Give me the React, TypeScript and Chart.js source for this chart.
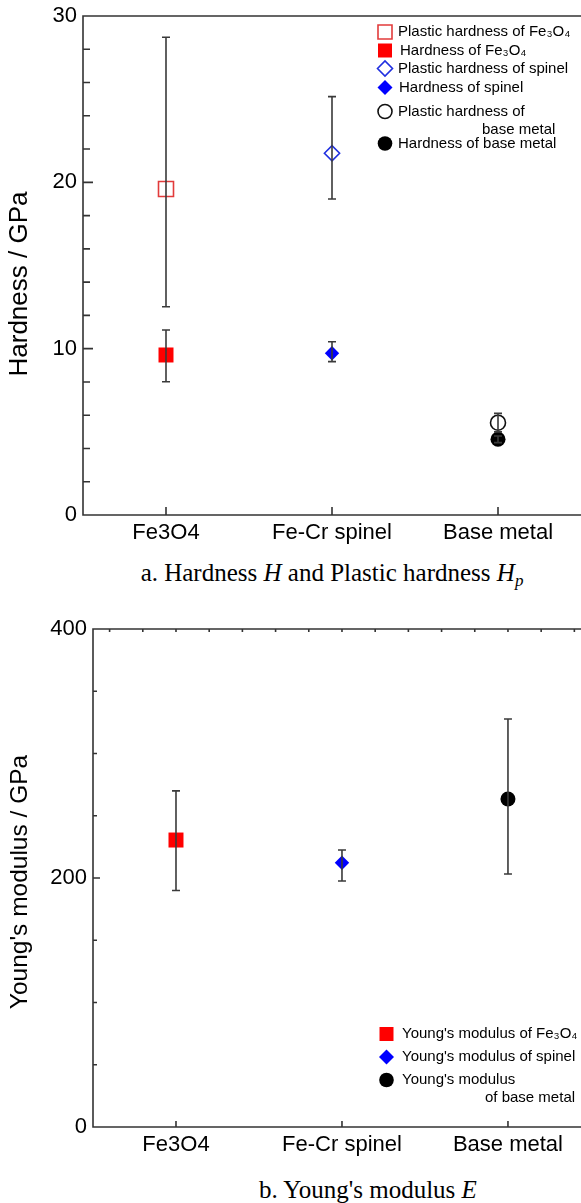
import React, { useEffect, useRef } from "react";
import { Chart, registerables } from "chart.js";

Chart.register(...registerables);

// ---------- data ----------
const categories = ["Fe3O4", "Fe-Cr spinel", "Base metal"];

// Hardness chart (GPa)
const plasticHardness = [19.6, 21.75, 5.55];
const plasticHardnessLow = [12.52, 19.0, 5.0];
const plasticHardnessHigh = [28.72, 25.15, 6.11];

const hardness = [9.62, 9.72, 4.55];
const hardnessLow = [8.01, 9.22, 4.35];
const hardnessHigh = [11.12, 10.42, 4.75];

// Young's modulus chart (GPa)
const youngsModulus = [230.5, 212.3, 263.5];
const youngsModulusLow = [190.0, 197.6, 203.2];
const youngsModulusHigh = [270.0, 222.5, 327.7];

const hardnessTicks = [0, 10, 20, 30];
const modulusTicks = [0, 200, 400];

// ---------- styling ----------
const SANS = "'Liberation Sans', Arial, Helvetica, sans-serif";
const SERIF = "'Liberation Serif', 'Times New Roman', serif";
const AXIS_COLOR = "#333333";
const ERR_COLOR = "#3a3a3a";

const styles = [
  { shape: "rect", color: "#ff0000", hollowColor: "#e23b3b", r: 10.6, rHollow: 10.6 },
  { shape: "rectRot", color: "#0000ff", hollowColor: "#1f2fe0", r: 7.2, rHollow: 7.6 },
  { shape: "circle", color: "#000000", hollowColor: "#111111", r: 7.5, rHollow: 7.5 },
];

type Bar = { x: number; lo: number; hi: number };

function errorBarsPlugin(bars: Bar[]) {
  return {
    id: "errorBars",
    afterDatasetsDraw(chart: any) {
      const { ctx, scales } = chart;
      const xs = scales.x;
      const ys = scales.y;
      ctx.save();
      ctx.strokeStyle = ERR_COLOR;
      ctx.lineWidth = 1.6;
      ctx.beginPath();
      for (const b of bars) {
        const px = xs.getPixelForValue(b.x);
        const t = ys.getPixelForValue(b.hi);
        const bt = ys.getPixelForValue(b.lo);
        ctx.moveTo(px, t);
        ctx.lineTo(px, bt);
        ctx.moveTo(px - 4, t);
        ctx.lineTo(px + 4, t);
        ctx.moveTo(px - 4, bt);
        ctx.lineTo(px + 4, bt);
      }
      ctx.stroke();
      ctx.restore();
    },
  };
}

type FrameCfg = {
  yMinor: number;
  yMajor: number;
  majorLen: number;
  minorLen: number;
  xLen: number;
  topStart?: number;
  topStep?: number;
  topLen?: number;
  title: string;
  titleSize: number;
  titleX: number;
  titleY: number;
};

function framePlugin(cfg: FrameCfg) {
  return {
    id: "frame",
    afterDraw(chart: any) {
      const { ctx, chartArea, scales } = chart;
      const { left, right, top, bottom } = chartArea;
      const xs = scales.x;
      const ys = scales.y;
      ctx.save();
      ctx.strokeStyle = AXIS_COLOR;
      ctx.lineWidth = 1.6;
      ctx.beginPath();
      ctx.moveTo(right + 2, top);
      ctx.lineTo(left, top);
      ctx.lineTo(left, bottom);
      ctx.lineTo(right + 2, bottom);
      const n = Math.round((ys.max - ys.min) / cfg.yMinor);
      for (let i = 1; i < n; i++) {
        const v = ys.min + i * cfg.yMinor;
        const py = ys.getPixelForValue(v);
        const q = v / cfg.yMajor;
        const major = Math.abs(q - Math.round(q)) < 1e-6;
        const len = major ? cfg.majorLen : cfg.minorLen;
        ctx.moveTo(left, py);
        ctx.lineTo(left + len, py);
      }
      for (const t of xs.ticks) {
        const px = xs.getPixelForValue(t.value);
        ctx.moveTo(px, bottom);
        ctx.lineTo(px, bottom - cfg.xLen);
      }
      if (cfg.topStep && cfg.topStart !== undefined) {
        for (let v = cfg.topStart; v < xs.max; v += cfg.topStep) {
          const px = xs.getPixelForValue(v);
          ctx.moveTo(px, top);
          ctx.lineTo(px, top + (cfg.topLen || 3));
        }
      }
      ctx.stroke();
      // axis title
      ctx.translate(cfg.titleX, cfg.titleY);
      ctx.rotate(-Math.PI / 2);
      ctx.fillStyle = "#000";
      ctx.font = `${cfg.titleSize}px ${SANS}`;
      ctx.textAlign = "center";
      ctx.textBaseline = "middle";
      ctx.fillText(cfg.title, 0, 0);
      ctx.restore();
    },
  };
}

type LegendItem = {
  shape: string;
  filled: boolean;
  color: string;
  size: number;
  mx: number;
  my: number;
  lines: { text: string; x: number; y: number }[];
};

function drawShape(ctx: CanvasRenderingContext2D, it: LegendItem) {
  const { mx, my, size } = it;
  ctx.beginPath();
  if (it.shape === "rect") {
    ctx.rect(mx - size, my - size, size * 2, size * 2);
  } else if (it.shape === "rectRot") {
    ctx.moveTo(mx - size, my);
    ctx.lineTo(mx, my - size);
    ctx.lineTo(mx + size, my);
    ctx.lineTo(mx, my + size);
    ctx.closePath();
  } else {
    ctx.arc(mx, my, size, 0, Math.PI * 2);
  }
  if (it.filled) {
    ctx.fillStyle = it.color;
    ctx.fill();
  } else {
    ctx.fillStyle = "#ffffff";
    ctx.fill();
    ctx.lineWidth = 1.6;
    ctx.strokeStyle = it.color;
    ctx.stroke();
  }
}

function legendPlugin(items: LegendItem[]) {
  return {
    id: "customLegend",
    afterDraw(chart: any) {
      const { ctx } = chart;
      ctx.save();
      for (const it of items) {
        drawShape(ctx, it);
        ctx.fillStyle = "#000";
        ctx.font = `15px ${SANS}`;
        ctx.textAlign = "left";
        ctx.textBaseline = "middle";
        for (const l of it.lines) ctx.fillText(l.text, l.x, l.y);
      }
      ctx.restore();
    },
  };
}

function pointDs(label: string, x: number, y: number, i: number, hollow: boolean) {
  const s = styles[i];
  return {
    label,
    data: [{ x, y }],
    pointStyle: s.shape,
    pointRadius: hollow ? s.rHollow : s.r,
    pointBackgroundColor: hollow ? "#ffffff" : s.color,
    pointBorderColor: hollow ? s.hollowColor : s.color,
    pointBorderWidth: hollow ? 1.6 : 0,
    showLine: false,
  };
}

function baseOptions(
  yMax: number,
  yTicks: number[],
  yWidth: number,
  xMax: number,
  xHeight: number,
  padTop: number
) {
  return {
    responsive: false,
    animation: false as const,
    events: [] as any[],
    layout: { padding: { top: padTop, right: 0, left: 0, bottom: 0 }, autoPadding: false },
    plugins: { legend: { display: false }, tooltip: { enabled: false } },
    scales: {
      x: {
        type: "linear" as const,
        min: 0.5,
        max: xMax,
        afterBuildTicks: (s: any) => {
          s.ticks = categories.map((_, i) => ({ value: i + 1 }));
        },
        afterFit: (s: any) => {
          s.height = xHeight;
          s.paddingLeft = 0;
          s.paddingRight = 0;
        },
        grid: { display: false, drawTicks: false },
        border: { display: false },
        ticks: {
          color: "#000",
          font: { family: SANS, size: 22 },
          padding: 5,
          maxRotation: 0,
          autoSkip: false,
          callback: (v: any) => categories[Math.round(Number(v)) - 1] ?? "",
        },
      },
      y: {
        type: "linear" as const,
        min: 0,
        max: yMax,
        afterBuildTicks: (s: any) => {
          s.ticks = yTicks.map((v) => ({ value: v }));
        },
        afterFit: (s: any) => {
          s.width = yWidth;
          s.paddingTop = 0;
          s.paddingBottom = 0;
        },
        grid: { display: false, drawTicks: false },
        border: { display: false },
        ticks: {
          color: "#000",
          font: { family: SANS, size: 22 },
          padding: 6,
        },
      },
    },
  };
}

export default function App() {
  const topRef = useRef<HTMLCanvasElement | null>(null);
  const botRef = useRef<HTMLCanvasElement | null>(null);

  useEffect(() => {
    const charts: Chart[] = [];
    if (topRef.current) {
      const datasets = [
        ...categories.map((c, i) =>
          pointDs(`Plastic hardness of ${c}`, i + 1, plasticHardness[i], i, true)
        ),
        ...categories.map((c, i) => pointDs(`Hardness of ${c}`, i + 1, hardness[i], i, false)),
      ];
      const bars: Bar[] = [
        ...categories.map((_, i) => ({ x: i + 1, lo: plasticHardnessLow[i], hi: plasticHardnessHigh[i] })),
        ...categories.map((_, i) => ({ x: i + 1, lo: hardnessLow[i], hi: hardnessHigh[i] })),
      ];
      const legend: LegendItem[] = [
        { shape: "rect", filled: false, color: "#e23b3b", size: 7, mx: 385, my: 32, lines: [{ text: "Plastic hardness of Fe₃O₄", x: 398, y: 32 }] },
        { shape: "rect", filled: true, color: "#ff0000", size: 7, mx: 385, my: 50.5, lines: [{ text: "Hardness of Fe₃O₄", x: 400, y: 50.5 }] },
        { shape: "rectRot", filled: false, color: "#1f2fe0", size: 7.5, mx: 385, my: 68.5, lines: [{ text: "Plastic hardness of spinel", x: 398, y: 68.5 }] },
        { shape: "rectRot", filled: true, color: "#0000ff", size: 7.5, mx: 385, my: 87.5, lines: [{ text: "Hardness of spinel", x: 399, y: 87.5 }] },
        {
          shape: "circle", filled: false, color: "#111", size: 7, mx: 385, my: 111.5,
          lines: [
            { text: "Plastic hardness of", x: 398, y: 111.5 },
            { text: "base metal", x: 482, y: 130 },
          ],
        },
        { shape: "circle", filled: true, color: "#000", size: 7.3, mx: 385, my: 143.5, lines: [{ text: "Hardness of base metal", x: 398, y: 143.5 }] },
      ];
      charts.push(
        new Chart(topRef.current, {
          type: "scatter",
          data: { datasets: datasets as any },
          options: baseOptions(30, hardnessTicks, 83, 3.5, 35, 16) as any,
          plugins: [
            framePlugin({
              yMinor: 2, yMajor: 10, majorLen: 10, minorLen: 7, xLen: 8,
              title: "Hardness / GPa", titleSize: 26, titleX: 20, titleY: 284,
            }),
            errorBarsPlugin(bars),
            legendPlugin(legend),
          ],
        })
      );
    }
    if (botRef.current) {
      const datasets = categories.map((c, i) =>
        pointDs(`Young's modulus of ${c}`, i + 1, youngsModulus[i], i, false)
      );
      const bars: Bar[] = categories.map((_, i) => ({ x: i + 1, lo: youngsModulusLow[i], hi: youngsModulusHigh[i] }));
      const legend: LegendItem[] = [
        { shape: "rect", filled: true, color: "#ff0000", size: 7, mx: 386.5, my: 434, lines: [{ text: "Young's modulus of Fe₃O₄", x: 402, y: 434 }] },
        { shape: "rectRot", filled: true, color: "#0000ff", size: 7.5, mx: 386.5, my: 457, lines: [{ text: "Young's modulus of spinel", x: 402, y: 457 }] },
        {
          shape: "circle", filled: true, color: "#000", size: 7.3, mx: 386.5, my: 480,
          lines: [
            { text: "Young's modulus", x: 402, y: 480 },
            { text: "of base metal", x: 485, y: 498 },
          ],
        },
      ];
      charts.push(
        new Chart(botRef.current, {
          type: "scatter",
          data: { datasets: datasets as any },
          options: baseOptions(400, modulusTicks, 93, 3.44, 38, 29) as any,
          plugins: [
            framePlugin({
              yMinor: 50, yMajor: 200, majorLen: 7, minorLen: 4, xLen: 6,
              topStart: 0.6, topStep: 0.2, topLen: 3,
              title: "Young's modulus / GPa", titleSize: 24.5, titleX: 20, titleY: 282,
            }),
            errorBarsPlugin(bars),
            legendPlugin(legend),
          ],
        })
      );
    }
    return () => {
      charts.forEach((c) => c.destroy());
    };
  }, []);

  const captionStyle: React.CSSProperties = {
    position: "absolute",
    width: 400,
    textAlign: "center",
    fontFamily: SERIF,
    fontSize: 25,
    lineHeight: "30px",
    color: "#000",
    whiteSpace: "nowrap",
  };

  return (
    <div
      style={{
        position: "absolute",
        left: 0,
        top: 0,
        width: 581,
        height: 1203,
        overflow: "hidden",
        background: "#fff",
      }}
    >
      <canvas ref={topRef} width={581} height={550} style={{ position: "absolute", left: 0, top: 0, display: "block" }} />
      <div style={{ ...captionStyle, left: 132, top: 558 }}>
        a. Hardness <i>H</i> and Plastic hardness <i>H</i>
        <sub style={{ fontSize: 17, verticalAlign: "-5px", lineHeight: 0 }}>
          <i>p</i>
        </sub>
      </div>
      <canvas ref={botRef} width={581} height={565} style={{ position: "absolute", left: 0, top: 600, display: "block" }} />
      <div style={{ ...captionStyle, left: 168, top: 1175 }}>
        b. Young's modulus <i>E</i>
      </div>
    </div>
  );
}
